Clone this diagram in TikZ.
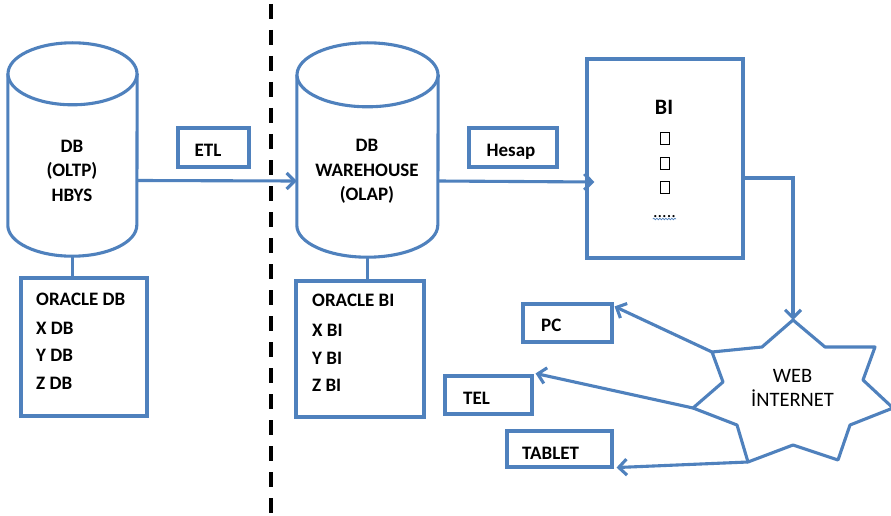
\documentclass[tikz,border=0pt]{standalone}
\usepackage{fontspec}
\setmainfont{Carlito}
\newfontfamily\symfont{DejaVu Sans}
\usetikzlibrary{arrows.meta,calc,decorations.pathmorphing}
\definecolor{dbblue}{RGB}{79,129,189}

\begin{document}
\begin{tikzpicture}[x=1pt,y=-1pt,
  bl/.style={draw=dbblue,line width=3.1pt},
  box/.style={bl,rectangle,inner sep=0pt,fill=white},
  ghost/.style={rectangle,inner sep=0pt},
  lbl/.style={font=\bfseries\fontsize{19}{23}\selectfont,inner sep=0pt},
  weblbl/.style={font=\fontsize{20.5}{24}\selectfont,inner sep=0pt,anchor=base},
  tofu/.style={draw=black,line width=0.9pt,inner sep=0pt,minimum width=9pt,minimum height=12pt},
  flow/.style={draw=dbblue,line width=3.1pt,-{Straight Barb[length=8pt,width=16pt]}},
]
% page
\fill[white] (0,0) rectangle (891,516);
\useasboundingbox (0,0) rectangle (891,516);

% dashed separator
\coordinate (cuttop) at (271,4);
\coordinate (cutbot) at (271,516);
\draw[black,line width=4pt,dash pattern=on 15pt off 11pt] (cuttop) -- (cutbot);

% operational database cylinder
\node[ghost,minimum width=129pt,minimum height=213pt] (db1) at (72.5,149.5) {};
\draw[bl,fill=white] ([yshift=-31pt]db1.north west) -- ([yshift=31pt]db1.south west)
  arc[start angle=180,end angle=360,x radius=64.5pt,y radius=31pt]
  -- ([yshift=-31pt]db1.north east);
\draw[bl,fill=white] ([yshift=-31pt]db1.north) ellipse[x radius=64.5pt,y radius=31pt];
\node[lbl,anchor=base] (db1a) at (72,152) {DB};
\node[lbl,anchor=base] (db1b) at (72,176.5) {(OLTP)};
\node[lbl,anchor=base] (db1c) at (72,201) {HBYS};

% warehouse cylinder
\node[ghost,minimum width=141pt,minimum height=214pt] (db2) at (367.5,150) {};
\draw[bl,fill=white] ([yshift=-32pt]db2.north west) -- ([yshift=32pt]db2.south west)
  arc[start angle=180,end angle=360,x radius=70.5pt,y radius=32pt]
  -- ([yshift=-32pt]db2.north east);
\draw[bl,fill=white] ([yshift=-32pt]db2.north) ellipse[x radius=70.5pt,y radius=32pt];
\node[lbl,anchor=base] (db2a) at (367,151) {DB};
\node[lbl,anchor=base] (db2b) at (367,176) {WAREHOUSE};
\node[lbl,anchor=base] (db2c) at (367,200) {(OLAP)};

% source list
\node[box,minimum width=126pt,minimum height=138pt] (ora) at (84,347) {};
\node[lbl,anchor=base west] (ora1) at (36,305.7) {ORACLE DB};
\node[lbl,anchor=base west] (ora2) at (36,334) {X DB};
\node[lbl,anchor=base west] (ora3) at (36,361.7) {Y DB};
\node[lbl,anchor=base west] (ora4) at (36,389) {Z DB};
\draw[bl] (db1.south) -- (db1.south |- ora.north);

% BI list
\node[box,minimum width=128pt,minimum height=136pt] (obi) at (360,349) {};
\node[lbl,anchor=base west] (obi1) at (312,306.5) {ORACLE BI};
\node[lbl,anchor=base west] (obi2) at (312,336) {X BI};
\node[lbl,anchor=base west] (obi3) at (312,364) {Y BI};
\node[lbl,anchor=base west] (obi4) at (312,391.7) {Z BI};
\draw[bl] (db2.south) -- (db2.south |- obi.north);

% step labels
\node[box,minimum width=71pt,minimum height=39pt] (etl) at (213.5,147.5) {};
\node[lbl,anchor=base] (etltxt) at (208,157) {ETL};
\node[box,minimum width=88pt,minimum height=39pt] (hesap) at (513,147.5) {};
\node[lbl,anchor=base] (hesaptxt) at (511,156) {Hesap};

% BI block with its placeholder glyph boxes
\node[box,minimum width=156pt,minimum height=199pt] (bi) at (665,158.5) {};
\node[font=\bfseries\fontsize{22}{26}\selectfont,inner sep=0pt,anchor=base] (bititle) at (664,114) {BI};
\node[tofu] (bt1) at (665,138) {};
\node[tofu] (bt2) at (665,163) {};
\node[tofu] (bt3) at (665,187) {};
\node[font=\fontsize{18}{20}\selectfont,inner sep=0pt,anchor=base] (dots) at (664.5,217) {.....};
\draw[dbblue,line width=0.7pt,decorate,decoration={snake,amplitude=0.8pt,segment length=3pt}]
  ([yshift=-2pt]dots.base west) -- ([yshift=-2pt]dots.base east);

% web star
\coordinate (stop) at (793,320);
\coordinate (s2) at (762,347);
\coordinate (sul) at (712,352);
\coordinate (s4) at (723,382);
\coordinate (sl) at (693,408);
\coordinate (s6) at (737,425);
\coordinate (sbl) at (748,462);
\coordinate (s8) at (793,445);
\coordinate (sbr) at (838,460);
\coordinate (s10) at (850,425);
\coordinate (sr) at (893,408);
\coordinate (s12) at (863,380);
\coordinate (sur) at (875,347);
\coordinate (s14) at (825,347);
\draw[bl,fill=white,line join=round] (stop) -- (s2) -- (sul) -- (s4) -- (sl) -- (s6) -- (sbl)
  -- (s8) -- (sbr) -- (s10) -- (sr) -- (s12) -- (sur) -- (s14) -- cycle;
\node[weblbl] (web1) at (792.5,382) {WEB};
\node[weblbl] (web2) at (792.5,406.7) {İNTERNET};

% client boxes
\node[box,minimum width=89pt,minimum height=38pt] (pc) at (567.5,323) {};
\node[lbl,anchor=base west] (pctxt) at (541,331.7) {PC};
\node[box,minimum width=87pt,minimum height=38pt] (tel) at (488.5,395) {};
\node[lbl,anchor=base west] (teltxt) at (463,404) {TEL};
\node[box,minimum width=105pt,minimum height=36pt] (tablet) at (559.5,449) {};
\node[lbl,anchor=base west] (tablettxt) at (522,459) {TABLET};

% flows
\draw[flow] ([yshift=-31pt]db1.east) -- ([yshift=-31pt]db2.west);
\draw[flow] ([yshift=-31pt]db2.east) -- ([xshift=9pt,yshift=-23.5pt]bi.west);
\draw[flow] ([yshift=-19.5pt]bi.east) -| (stop);
\draw[flow] (sul) -- ([xshift=1pt,yshift=-4pt]pc.north east);
\draw[flow] (sl) -- ([xshift=2pt,yshift=1pt]tel.north east);
\draw[flow] (sbl) -- ([xshift=3pt,yshift=1pt]tablet.south east);
\end{tikzpicture}
\end{document}
